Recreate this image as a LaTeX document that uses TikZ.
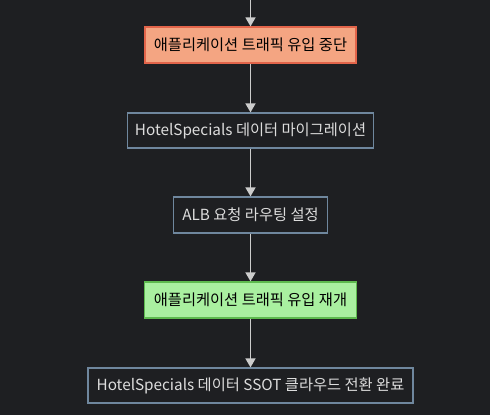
\documentclass[tikz,border=0pt]{standalone}
\usepackage{fontspec}
\setmainfont{Noto Sans CJK KR}
\usetikzlibrary{arrows.meta}
\definecolor{bg}{HTML}{1E1F22}
\definecolor{darkstroke}{HTML}{6F879E}
\definecolor{lighttext}{HTML}{DDDDDD}
\definecolor{redfill}{HTML}{F4A582}
\definecolor{redstroke}{HTML}{E2644A}
\definecolor{greenfill}{HTML}{A9F0A0}
\definecolor{greenstroke}{HTML}{5DBA4E}
\definecolor{arrowc}{HTML}{CCCCCC}
\begin{document}
\begin{tikzpicture}[x=1bp,y=-1bp,
  box/.style={draw=darkstroke, fill=bg, line width=1.2bp, text=lighttext, inner sep=0pt, font=\fontsize{15.3bp}{18bp}\selectfont},
  redbox/.style={box, draw=redstroke, fill=redfill, text=black},
  greenbox/.style={box, draw=greenstroke, fill=greenfill, text=black},
  flow/.style={draw=arrowc, line width=1.5bp, -{Triangle[width=10bp,length=9bp]}}]
\fill[bg] (0,0) rectangle (490,415);
\useasboundingbox (0,0) rectangle (490,415);
\coordinate (top) at (250.5,0);
\node[redbox, minimum width=211bp, minimum height=36bp] (n1) at (250.5,45) {애플리케이션 트래픽 유입 중단};
\node[box, minimum width=246bp, minimum height=35bp] (n2) at (250.5,130.5) {HotelSpecials 데이터 마이그레이션};
\node[box, minimum width=154bp, minimum height=36bp] (n3) at (250.5,215) {ALB 요청 라우팅 설정};
\node[greenbox, minimum width=212bp, minimum height=36bp] (n4) at (250.5,300) {애플리케이션 트래픽 유입 재개};
\node[box, minimum width=325bp, minimum height=35bp] (n5) at (250.5,385.5) {HotelSpecials 데이터 SSOT 클라우드 전환 완료};
\draw[flow] (top) -- (n1);
\draw[flow] (n1) -- (n2);
\draw[flow] (n2) -- (n3);
\draw[flow] (n3) -- (n4);
\draw[flow] (n4) -- (n5);
\end{tikzpicture}
\end{document}
